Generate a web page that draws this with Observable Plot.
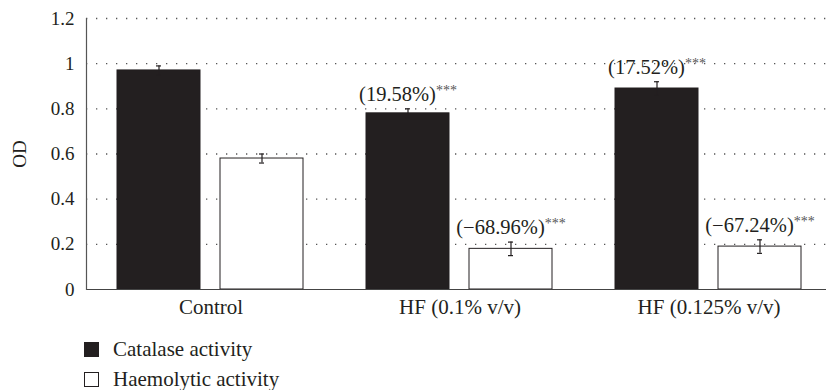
<!DOCTYPE html>
<html>
<head>
<meta charset="utf-8">
<script src="https://cdn.jsdelivr.net/npm/d3@7"></script>
<script src="https://cdn.jsdelivr.net/npm/@observablehq/plot@0.6"></script>
<style>
  body { margin: 0; background: #fff; font-family: "Liberation Serif", serif; color: #231f20; }
  #chart svg, #chart svg text, #chart svg g { font-family: "Liberation Serif", serif !important; }
  #legend { margin: 8px 0 0 84px; font-size: 21px; }
  .row { display: flex; align-items: center; height: 30px; }
  .sw { width: 15px; height: 15px; box-sizing: border-box; border: 1px solid #231f20; margin-right: 14px; }
</style>
</head>
<body>
<div id="chart"></div>
<div id="legend"></div>
<script>
// Treatment groups and measured series
const groups = ["Control", "HF (0.1% v/v)", "HF (0.125% v/v)"];
const series = ["Catalase activity", "Haemolytic activity"];
const catalase = [0.97, 0.78, 0.89];
const catalaseErr = [0.02, 0.02, 0.03];
const haemolytic = [0.58, 0.18, 0.19];
const haemolyticErr = [0.02, 0.03, 0.03];
const catalaseLabels = [null, "(19.58%)", "(17.52%)"];
const haemolyticLabels = [null, "(−68.96%)", "(−67.24%)"];
const significance = "***";
const yTicks = [0, 0.2, 0.4, 0.6, 0.8, 1, 1.2];
const fills = ["#231f20", "#ffffff"];

const rows = groups.flatMap((g, i) => [
  {group: g, series: series[0], value: catalase[i], err: catalaseErr[i], label: catalaseLabels[i]},
  {group: g, series: series[1], value: haemolytic[i], err: haemolyticErr[i], label: haemolyticLabels[i]}
]);
const labelled = rows.filter(d => d.label);

const ink = "#231f20";

const chart = Plot.plot({
  width: 826,
  height: 326,
  marginLeft: 85,
  marginRight: 0,
  marginTop: 18,
  marginBottom: 37,
  style: {fontSize: "19px", color: ink, background: "#fff"},
  fx: {domain: groups, range: [85, 834], padding: 0, label: null},
  x: {domain: series, paddingInner: 0.19, paddingOuter: 0.3, axis: null},
  y: {domain: [0, 1.2]},
  color: {domain: series, range: fills},
  marks: [
    Plot.ruleY(yTicks.filter(t => t > 0), {stroke: "#555", strokeDasharray: "1.3,8.7", strokeWidth: 1.3}),
    Plot.barY(rows, {fx: "group", x: "series", y: "value", fill: "series", stroke: ink, strokeWidth: 1}),
    Plot.ruleX(rows, {fx: "group", x: "series", y1: d => d.value - d.err, y2: d => d.value + d.err, stroke: ink, strokeWidth: 1.2}),
    Plot.tickY(rows, {fx: "group", x: "series", y: d => d.value - d.err, stroke: ink, strokeWidth: 1.2, insetLeft: 39, insetRight: 39}),
    Plot.tickY(rows, {fx: "group", x: "series", y: d => d.value + d.err, stroke: ink, strokeWidth: 1.2, insetLeft: 39, insetRight: 39}),
    Plot.text(labelled, {fx: "group", x: "series", y: d => d.value + d.err, text: "label", lineAnchor: "bottom", dy: -8, fontSize: 20.5, fill: ink, className: "pct"}),
    Plot.axisY({ticks: yTicks, tickSize: 0, tickPadding: 12, tickFormat: d => String(d), label: "OD", labelAnchor: "center", labelArrow: "none", labelOffset: 74, fontSize: 19}),
    Plot.axisFx({anchor: "bottom", tickSize: 0, tickPadding: 10, label: null, fontSize: 21}),
    Plot.ruleY([0], {stroke: "#444", strokeWidth: 1.2}),
    Plot.frame({anchor: "left", facet: "super", stroke: "#555", strokeWidth: 1.2})
  ]
});

// Append the significance stars as a raised, smaller tspan after each percentage
chart.querySelectorAll(".pct text").forEach(t => {
  const s = document.createElementNS("http://www.w3.org/2000/svg", "tspan");
  s.setAttribute("dy", "-0.4em");
  s.setAttribute("font-size", "14");
  s.setAttribute("fill", "#555");
  s.textContent = significance;
  t.appendChild(s);
});

document.getElementById("chart").appendChild(chart);

// Legend below the chart
const legend = d3.select("#legend");
series.forEach((s, i) => {
  const row = legend.append("div").attr("class", "row");
  row.append("div").attr("class", "sw").style("background", fills[i]);
  row.append("span").text(s);
});
</script>
</body>
</html>
